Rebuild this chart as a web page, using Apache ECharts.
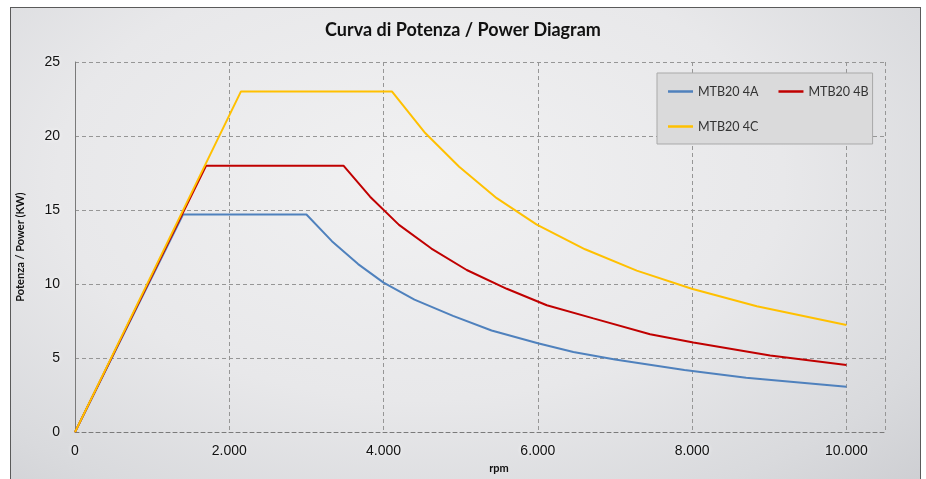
<!DOCTYPE html>
<html>
<head>
<meta charset="utf-8">
<script src="https://cdn.jsdelivr.net/npm/echarts@6/dist/echarts.min.js"></script>
<style>
  html, body { margin: 0; padding: 0; background: #ffffff; }
  #wrap { position: relative; width: 926px; height: 479px; overflow: hidden; }
  #bg {
    position: absolute; left: 10px; top: 7px; width: 909px; height: 490px;
    border: 1.5px solid #5a5a5a;
    background: radial-gradient(ellipse 80% 90% at 45% 35%, #f1f1f2 0%, #e8e8ea 50%, #d9dadd 80%, #cccdd1 100%);
  }
  #chart { position: absolute; left: 0; top: 0; width: 926px; height: 479px; }
</style>
</head>
<body>
<div id="wrap">
  <div id="bg"></div>
  <div id="chart"></div>
</div>
<script>
// ---- data ----
const seriesNames = ['MTB20 4A', 'MTB20 4B', 'MTB20 4C'];

const rpmA   = [0, 1400, 3000, 3330, 3670, 4000, 4400, 4900, 5400, 6000, 6460, 7000, 7900, 8700, 10000];
const powerA = [0, 14.7, 14.7, 12.9, 11.35, 10.1, 8.95, 7.85, 6.86, 6.0, 5.41, 4.9, 4.19, 3.67, 3.07];

const rpmB   = [0, 1700, 3480, 3825, 4200, 4620, 5078, 5597, 6116, 6720, 7455, 8016, 9011, 10000];
const powerB = [0, 18, 18, 15.9, 14.0, 12.4, 10.95, 9.68, 8.57, 7.68, 6.61, 6.05, 5.17, 4.54];

const rpmC   = [0, 2150, 4110, 4540, 4980, 5467, 5986, 6612, 7282, 7995, 8838, 10000];
const powerC = [0, 23, 23, 20.2, 17.92, 15.8, 14.02, 12.35, 10.91, 9.68, 8.5, 7.24];

const xTicks = [0, 2000, 4000, 6000, 8000, 10000];
const yTicks = [0, 5, 10, 15, 20, 25];

const colors = ['#4f81bd', '#c00000', '#ffc000'];

function zip(xs, ys) { return xs.map((x, i) => [x, ys[i]]); }
function fmtThousands(v) {
  return String(v).replace(/\B(?=(\d{3})+(?!\d))/g, '.');
}

const chart = echarts.init(document.getElementById('chart'), null, { renderer: 'canvas' });

const labelGlow = {
  color: '#111',
  fontFamily: 'Liberation Sans, Arial, sans-serif',
  fontSize: 14,
  textShadowColor: '#ffffff',
  textShadowBlur: 4
};
const gridLine = { show: true, lineStyle: { color: '#969696', type: [4, 3], width: 1 } };

chart.setOption({
  backgroundColor: 'transparent',
  animation: false,
  color: colors,
  title: {
    text: 'Curva di Potenza / Power Diagram',
    left: 'center',
    top: 16,
    textStyle: { fontFamily: 'Lato, Open Sans, sans-serif', fontWeight: 'bold', fontSize: 18, color: '#111' }
  },
  legend: {
    data: seriesNames,
    left: 657,
    top: 73,
    width: 202,
    orient: 'horizontal',
    icon: 'rect',
    itemWidth: 25,
    itemHeight: 2.5,
    itemGap: 20,
    padding: [11, 4, 10, 11],
    backgroundColor: '#dadadb',
    borderColor: '#a9a9a9',
    borderWidth: 1,
    textStyle: { fontFamily: 'Lato, Open Sans, sans-serif', fontSize: 12.5, color: '#333', lineHeight: 15 }
  },
  grid: { left: 75, top: 62, right: 41, bottom: 42, containLabel: false },
  xAxis: {
    type: 'value',
    min: xTicks[0],
    max: 10500,
    interval: 2000,
    name: 'rpm',
    nameLocation: 'middle',
    nameGap: 23,
    nameTextStyle: { fontFamily: 'Lato, Open Sans, sans-serif', fontWeight: 'bold', fontSize: 11, color: '#111', padding: [0, 0, 0, 38] },
    axisLine: { show: true, lineStyle: { color: '#7a7a7a', type: [4, 3], width: 1 } },
    axisTick: { show: false },
    axisLabel: Object.assign({ margin: 12, showMaxLabel: false, formatter: v => (xTicks.indexOf(v) >= 0 ? fmtThousands(v) : '') }, labelGlow),
    splitLine: gridLine
  },
  yAxis: {
    type: 'value',
    min: yTicks[0],
    max: yTicks[yTicks.length - 1],
    interval: 5,
    name: 'Potenza / Power (KW)',
    nameLocation: 'middle',
    nameGap: 49,
    nameRotate: 90,
    nameTextStyle: { fontFamily: 'Lato, Open Sans, sans-serif', fontWeight: 'bold', fontSize: 11, color: '#111' },
    axisLine: { show: true, lineStyle: { color: '#7a7a7a', width: 1 } },
    axisTick: { show: false },
    axisLabel: Object.assign({ margin: 15 }, labelGlow),
    splitLine: gridLine
  },
  series: [
    { name: seriesNames[0], type: 'line', data: zip(rpmA, powerA), symbol: 'none', lineStyle: { width: 2, color: colors[0] }, z: 3 },
    { name: seriesNames[1], type: 'line', data: zip(rpmB, powerB), symbol: 'none', lineStyle: { width: 2, color: colors[1] }, z: 4 },
    { name: seriesNames[2], type: 'line', data: zip(rpmC, powerC), symbol: 'none', lineStyle: { width: 2, color: colors[2] }, z: 5 }
  ]
});
</script>
</body>
</html>
